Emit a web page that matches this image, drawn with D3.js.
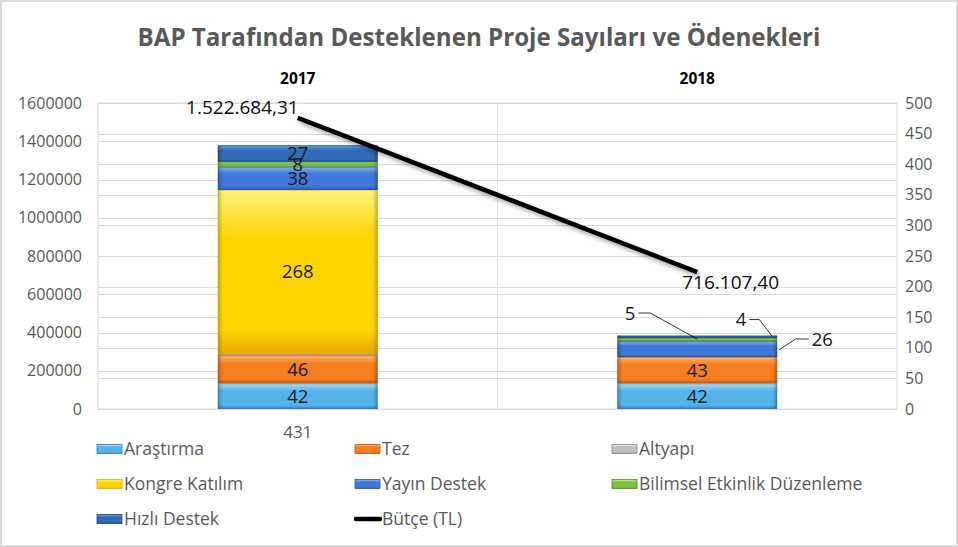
<!DOCTYPE html>
<html>
<head>
<meta charset="utf-8">
<script src="https://cdn.jsdelivr.net/npm/d3@7"></script>
<style>
  html, body { margin: 0; padding: 0; background: #fff; }
  svg { display: block; }
  text { font-family: "Open Sans", "Noto Sans", sans-serif; }
</style>
</head>
<body>
<svg id="chart" width="958" height="547"></svg>
<script>
// ---------------- DATA ----------------
const titleText = "BAP Tarafından Desteklenen Proje Sayıları ve Ödenekleri";
const years = ["2017", "2018"];
const seriesNames = ["Araştırma", "Tez", "Altyapı", "Kongre Katılım", "Yayın Destek", "Bilimsel Etkinlik Düzenleme", "Hızlı Destek"];
const arastirma = [42, 42];
const tez = [46, 43];
const altyapi = [2, 0];
const kongre = [268, 0];
const yayin = [38, 26];
const bilimsel = [8, 5];
const hizli = [27, 4];
const butce = [1522684.31, 716107.40];
const butceLabels = ["1.522.684,31", "716.107,40"];
const totalLabels = ["431", ""];
const leftTicks = [0, 200000, 400000, 600000, 800000, 1000000, 1200000, 1400000, 1600000];
const rightTicks = [0, 50, 100, 150, 200, 250, 300, 350, 400, 450, 500];
const lineName = "Bütçe (TL)";

// ---------------- STYLE ----------------
const colors = {
  "Araştırma":   ["#a6e2fb", "#55b3ea", "#2f7fc6"],
  "Tez":         ["#ffb26b", "#f47e20", "#c95a0c"],
  "Altyapı":     ["#f2f2f2", "#bfbfbf", "#8c8c8c"],
  "Kongre Katılım": ["#fff27a", "#ffd500", "#e8a800"],
  "Yayın Destek": ["#8fb5f0", "#3f78d6", "#2554a8"],
  "Bilimsel Etkinlik Düzenleme": ["#c6f08f", "#7cc242", "#4e8f25"],
  "Hızlı Destek": ["#6fa3df", "#2f6cb5", "#1b467f"]
};
const valuesBySeries = [arastirma, tez, altyapi, kongre, yayin, bilimsel, hizli];

const svg = d3.select("#chart");
const W = 958, H = 547;
const plot = { left: 98, right: 897, top: 103, bottom: 409 };

// Background + outer border
svg.append("rect").attr("x", 1).attr("y", 1).attr("width", W - 2).attr("height", H - 2)
  .attr("fill", "#fff").attr("stroke", "#d9d9d9").attr("stroke-width", 2);

const defs = svg.append("defs");
seriesNames.forEach((name, i) => {
  const c = colors[name];
  const g = defs.append("linearGradient").attr("id", "grad" + i)
    .attr("x1", 0).attr("y1", 0).attr("x2", 0).attr("y2", 1);
  g.append("stop").attr("offset", "0%").attr("stop-color", c[0]);
  g.append("stop").attr("offset", "30%").attr("stop-color", c[1]);
  g.append("stop").attr("offset", "85%").attr("stop-color", c[1]);
  g.append("stop").attr("offset", "100%").attr("stop-color", c[2]);
});
const sideG = defs.append("linearGradient").attr("id", "side").attr("x1", 0).attr("y1", 0).attr("x2", 1).attr("y2", 0);
sideG.append("stop").attr("offset", "0%").attr("stop-color", "#000").attr("stop-opacity", 0.25);
sideG.append("stop").attr("offset", "3%").attr("stop-color", "#000").attr("stop-opacity", 0);
sideG.append("stop").attr("offset", "97%").attr("stop-color", "#000").attr("stop-opacity", 0);
sideG.append("stop").attr("offset", "100%").attr("stop-color", "#000").attr("stop-opacity", 0.25);
const blur = defs.append("filter").attr("id", "shadow").attr("x", "-10%").attr("y", "-10%").attr("width", "120%").attr("height", "140%");
blur.append("feGaussianBlur").attr("stdDeviation", 2);

// Scales
const x = d3.scaleBand().domain(years).range([plot.left, plot.right]).paddingInner(0.6).paddingOuter(0.3);
const step = x.step();
const yL = d3.scaleLinear().domain([0, 1600000]).range([plot.bottom, plot.top]);
const yR = d3.scaleLinear().domain([0, 500]).range([plot.bottom, plot.top]);

// Title
svg.append("text").attr("x", 479).attr("y", 46).attr("text-anchor", "middle")
  .attr("font-size", 22).attr("font-weight", "bold").attr("fill", "#595959").text(titleText)
  .each(function () {
    const target = 683, w = this.getComputedTextLength();
    d3.select(this).attr("font-size", 22 * target / w);
  });

// Plot area border
svg.append("rect").attr("x", plot.left).attr("y", plot.top)
  .attr("width", plot.right - plot.left).attr("height", plot.bottom - plot.top)
  .attr("fill", "none").attr("stroke", "#d9d9d9").attr("stroke-width", 1);

// Gridlines (both axes)
const grid = svg.append("g").attr("stroke", "#d9d9d9").attr("stroke-width", 1);
leftTicks.forEach(t => grid.append("line").attr("x1", plot.left).attr("x2", plot.right)
  .attr("y1", Math.round(yL(t)) + 0.5).attr("y2", Math.round(yL(t)) + 0.5));
rightTicks.forEach(t => grid.append("line").attr("x1", plot.left).attr("x2", plot.right)
  .attr("y1", Math.round(yR(t)) + 0.5).attr("y2", Math.round(yR(t)) + 0.5));
svg.append("line").attr("x1", plot.left + step).attr("x2", plot.left + step)
  .attr("y1", plot.top).attr("y2", plot.bottom).attr("stroke", "#e6e6e6");

// Axes
const axL = svg.append("g").attr("transform", `translate(${plot.left - 16},0)`)
  .call(d3.axisLeft(yL).tickValues(leftTicks).tickSize(0).tickPadding(0).tickFormat(d3.format("d")));
axL.select(".domain").remove();
axL.selectAll("text").attr("font-size", 16).attr("fill", "#595959").attr("font-family", "'Open Sans', sans-serif");

const axR = svg.append("g").attr("transform", `translate(${plot.right + 8},0)`)
  .call(d3.axisRight(yR).tickValues(rightTicks).tickSize(0).tickPadding(0).tickFormat(d3.format("d")));
axR.select(".domain").remove();
axR.selectAll("text").attr("font-size", 16).attr("fill", "#595959").attr("font-family", "'Open Sans', sans-serif");

// Category labels at top
const axT = svg.append("g").attr("transform", `translate(0,84)`)
  .call(d3.axisTop(x).tickSize(0).tickPadding(0));
axT.select(".domain").remove();
axT.selectAll("text").attr("font-size", 15.5).attr("font-weight", "bold").attr("fill", "#000")
  .attr("font-family", "'Open Sans', sans-serif");

// Stacked bars
const table = years.map((yr, j) => {
  const o = { year: yr };
  seriesNames.forEach((n, i) => o[n] = valuesBySeries[i][j]);
  return o;
});
const stack = d3.stack().keys(seriesNames)(table);
const barsG = svg.append("g");
stack.forEach((layer, i) => {
  layer.forEach((seg, j) => {
    const h = yR(seg[0]) - yR(seg[1]);
    if (h <= 0) return;
    const bx = x(years[j]), bw = x.bandwidth();
    barsG.append("rect").attr("x", bx).attr("y", yR(seg[1])).attr("width", bw).attr("height", h)
      .attr("fill", `url(#grad${i})`);
    barsG.append("rect").attr("x", bx).attr("y", yR(seg[1])).attr("width", bw).attr("height", h)
      .attr("fill", "url(#side)");
    barsG.append("rect").attr("x", bx + 0.5).attr("y", yR(seg[1]) + 0.5).attr("width", bw - 1).attr("height", Math.max(h - 1, 0))
      .attr("fill", "none").attr("stroke", colors[seriesNames[i]][2]).attr("stroke-opacity", 0.6);
  });
});

// Bar labels
const labelsG = svg.append("g").attr("font-size", 18.5).attr("fill", "#1a1a1a").attr("text-anchor", "middle");
const leaders = [
  { s: 5, j: 1, ax: 0, ex: -47, ey: -26, tx: -12, anchor: "end" },
  { s: 6, j: 1, ax: 0.97, ex: -13, ey: -17, tx: -10, anchor: "end" },
  { s: 4, j: 1, ax: 1.01, ex: 17, ey: -11, tx: 13, anchor: "start" }
];
stack.forEach((layer, i) => {
  layer.forEach((seg, j) => {
    const v = seg.data[seriesNames[i]];
    if (!v || seriesNames[i] === "Altyapı") return;
    const lead = leaders.find(l => l.s === i && l.j === j);
    const cx = x(years[j]) + x.bandwidth() / 2;
    const cy = (yR(seg[0]) + yR(seg[1])) / 2;
    if (lead) {
      const px = lead.ax === 0 ? cx : x(years[j]) + x.bandwidth() * lead.ax;
      const py = lead.s === 4 ? cy + 1 : yR(seg[1]) + 1;
      const exx = px + lead.ex, eyy = py + lead.ey;
      const endx = exx + lead.tx;
      labelsG.append("path").attr("d", `M${px},${py}L${exx},${eyy}L${endx},${eyy}`)
        .attr("stroke", "#000").attr("stroke-width", 0.8).attr("fill", "none");
      labelsG.append("text").attr("x", endx + (lead.anchor === "end" ? -3 : 3)).attr("y", eyy + 6.5)
        .attr("text-anchor", lead.anchor).text(v);
    } else {
      labelsG.append("text").attr("x", cx).attr("y", cy + 6.5).text(v);
    }
  });
});

// Total label under bars
years.forEach((yr, j) => {
  if (!totalLabels[j]) return;
  svg.append("text").attr("x", x(yr) + x.bandwidth() / 2).attr("y", 438).attr("text-anchor", "middle")
    .attr("font-size", 17).attr("fill", "#595959").text(totalLabels[j]);
});

// Line (Bütçe) on left axis
const linePts = years.map((yr, j) => [x(yr) + x.bandwidth() / 2, yL(butce[j])]);
const lineGen = d3.line();
svg.append("path").attr("d", lineGen(linePts.map(p => [p[0] + 2, p[1] + 3])))
  .attr("stroke", "#000").attr("stroke-opacity", 0.35).attr("stroke-width", 4.5).attr("fill", "none")
  .attr("filter", "url(#shadow)");
svg.append("path").attr("d", lineGen(linePts))
  .attr("stroke", "#000").attr("stroke-width", 4.5).attr("fill", "none");

// Line labels
svg.append("text").attr("x", linePts[0][0] + 1).attr("y", linePts[0][1] - 4).attr("text-anchor", "end")
  .attr("font-size", 19).attr("fill", "#0d0d0d").text(butceLabels[0]);
svg.append("text").attr("x", linePts[1][0] - 15).attr("y", linePts[1][1] + 17).attr("text-anchor", "start")
  .attr("font-size", 19).attr("fill", "#0d0d0d").text(butceLabels[1]);

// Legend
const legendItems = [...seriesNames.map((n, i) => ({ name: n, idx: i })), { name: lineName, idx: -1 }];
const colX = [97, 355, 612], rowY = [449, 484, 519];
const lg = svg.append("g");
legendItems.forEach((it, k) => {
  const cxp = colX[k % 3], cyp = rowY[Math.floor(k / 3)];
  if (it.idx >= 0) {
    lg.append("rect").attr("x", cxp).attr("y", cyp - 4.5).attr("width", 25).attr("height", 9)
      .attr("fill", `url(#grad${it.idx})`).attr("stroke", colors[it.name][2]).attr("stroke-width", 0.8);
  } else {
    lg.append("line").attr("x1", cxp + 1).attr("x2", cxp + 25).attr("y1", cyp).attr("y2", cyp)
      .attr("stroke", "#000").attr("stroke-width", 4.5).attr("stroke-linecap", "round");
  }
  lg.append("text").attr("x", cxp + 27).attr("y", cyp + 6).attr("font-size", 17.5)
    .attr("fill", "#595959").text(it.name);
});
</script>
</body>
</html>
